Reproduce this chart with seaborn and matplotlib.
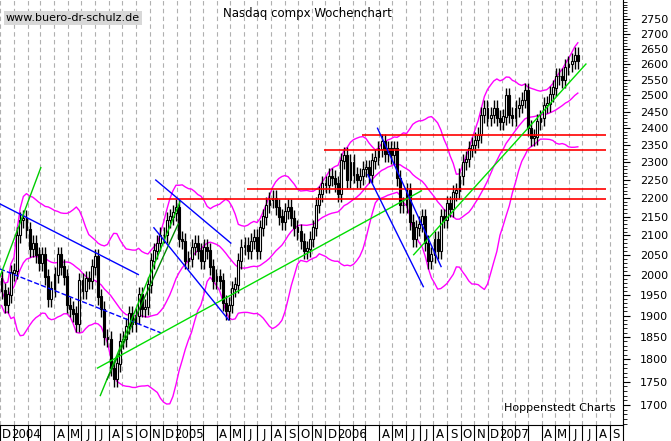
import numpy as np, pandas as pd
import matplotlib
matplotlib.use("Agg")
import matplotlib.pyplot as plt
import seaborn as sns
from matplotlib.ticker import FixedLocator, NullFormatter

closes = [1960,1925,1950,2005,2010,
 2100,2140,2145,2115, 2065,2080,2050,2030, 2050,1995,1940,1965,2000,
 2050,2020,1995,1925, 1915,1905,1880,1985,1960, 1990,1985,2020,2045,
 1945,1915,1850,1845, 1780,1755,1790,1840,1845, 1875,1905,1880,1900,
 1950,1915,1920,1975, 2035,2060,2080,2100,2100, 2140,2150,2160,2175,
 2090,2085,2035,2040,2070, 2080,2060,2035,2070, 2060,2020,1985,1995,
 1985,1930,1910,1925, 1965,1975,2035,2070,2075, 2060,2085,2095,2060,
 2120,2150,2180,2195, 2200,2175,2150,2135,2165, 2175,2145,2120,2110,
 2085,2060,2065,2090,2120, 2180,2210,2240,2235, 2260,2255,2240,2210,
 2305,2320,2250,2300,2265, 2250,2260,2280,2285, 2265,2305,2315,2340,
 2360,2325,2340,2320, 2340,2255,2180,2180,2220, 2135,2090,2120,2130,
 2150,2080,2035,2050,2090, 2060,2150,2140,2185, 2170,2215,2220,2260,
 2300,2310,2340,2350,2365, 2380,2440,2460,2430, 2440,2460,2430,2420,
 2435,2500,2440,2430,2460, 2470,2485,2515,2400, 2370,2375,2420,2430,
 2470,2475,2505,2525,2560, 2560,2550,2590,2600, 2610,2630,2610]
opens = [1990] + closes[:-1]
start_date = "2003-12-01"
red_levels = [2380, 2335, 2225, 2198]
red_start_week = [115.8, 103.6, 78.9, 49.8]
# trend lines: (week0, price0, week1, price1, color, style)
trend_lines = [
 (-0.5, 2184, 43.9, 2000, "blue", "-"),
 (-0.5, 2014, 51.1, 1860, "blue", "--"),
 (-0.5, 1995, 12.6, 2285, "#00cc00", "-"),
 (31.7, 1720, 57.3, 2190, "#00cc00", "-"),
 (33.9, 1755, 56.7, 2130, "#008800", "-"),
 (30.8, 1780, 134.8, 2220, "#00dd00", "-"),
 (132.3, 2050, 187.6, 2600, "#00dd00", "-"),
 (49.5, 2250, 73.6, 2080, "blue", "-"),
 (48.9, 2120, 72.9, 1890, "blue", "-"),
 (120.7, 2400, 141.1, 2020, "blue", "-"),
 (117.6, 2265, 135.4, 1970, "blue", "-"),
]

n = len(closes)
wk = np.arange(n)
df = pd.DataFrame({"week": wk, "close": closes, "open": opens})
mid = df["close"].rolling(20, min_periods=1, center=False).mean()
sd = df["close"].rolling(20, min_periods=3).std().bfill()
bands = pd.DataFrame({"week": wk, "mid": mid, "up": mid + 2*sd, "lo": mid - 2*sd})

fig = plt.figure(figsize=(6.71, 4.41), dpi=100)
ax = fig.add_axes([0, 1-425/441, 623/671, 425/441])
ax.set_yscale("log")
ax.set_ylim(1658, 2816)
ax.set_xlim(-0.5, 194.2)

mstarts = pd.date_range("2003-12-01", "2007-10-01", freq="MS")
def d2w(d):
    return (d - pd.Timestamp(start_date)).days / 7.0 - 0.5
bounds = [d2w(d) for d in mstarts]
for b in bounds:
    ax.axvline(b, color="#b0b0b0", ls=(0, (4, 3)), lw=0.8, zorder=0)
centers, labels = [], []
for i in range(len(mstarts)-1):
    d = mstarts[i]
    c = (bounds[i]+bounds[i+1])/2
    if d.month == 1:
        centers.append(bounds[i] + 4); labels.append(str(d.year))
    elif d.month in (2, 3):
        continue
    else:
        centers.append(c); labels.append("JFMAMJJASOND"[d.month-1])
ax.set_xticks(centers)
ax.set_xticklabels(labels, fontsize=8.5)
ax.tick_params(axis="x", length=0, pad=2)
ax.set_xticks(bounds, minor=True)
ax.tick_params(axis="x", which="minor", length=14, width=0.8)

sns.lineplot(data=bands, x="week", y="up", color="magenta", lw=1, ax=ax)
sns.lineplot(data=bands, x="week", y="mid", color="magenta", lw=1, ax=ax)
sns.lineplot(data=bands, x="week", y="lo", color="magenta", lw=1, ax=ax)

for x, o, c in zip(wk, opens, closes):
    hi = max(o, c)*1.01; lo = min(o, c)*0.99
    ax.vlines(x, lo, hi, color="black", lw=1, zorder=3)
    ax.bar(x, abs(c-o) + 1, bottom=min(o, c), width=0.6,
           color="white" if c >= o else "black", edgecolor="black", lw=0.8, zorder=4)

for lvl, s in zip(red_levels, red_start_week):
    ax.hlines(lvl, s, 194.2, color="red", lw=1.2, zorder=5)
for w0, p0, w1, p1, col, ls in trend_lines:
    ax.plot([w0, w1], [p0, p1], color=col, ls=ls, lw=1, zorder=5)

ax.set_xlabel(""); ax.set_ylabel("")
ax.yaxis.tick_right()
maj = np.arange(1700, 2751, 50)
ax.yaxis.set_major_locator(FixedLocator(maj))
ax.yaxis.set_minor_locator(FixedLocator(np.arange(1660, 2811, 10)))
ax.yaxis.set_major_formatter(matplotlib.ticker.FixedFormatter([str(v) for v in maj]))
ax.yaxis.set_minor_formatter(NullFormatter())
ax.tick_params(axis="y", which="major", length=5, labelsize=8, pad=7)
ax.tick_params(axis="y", which="minor", length=3)
for s in ["top", "left"]:
    ax.spines[s].set_visible(False)

fig.text(307/671, 1-14/441, "Nasdaq compx Wochenchart", ha="center", va="center", fontsize=8.5)
fig.text(6/671, 1-18/441, "www.buero-dr-schulz.de", ha="left", va="center", fontsize=8,
         bbox=dict(facecolor="#d8d8d8", edgecolor="none", pad=1.5))
fig.text(560/671, 1-408/441, "Hoppenstedt Charts", ha="center", va="center", fontsize=8)
fig.savefig("out.png", dpi=100)
